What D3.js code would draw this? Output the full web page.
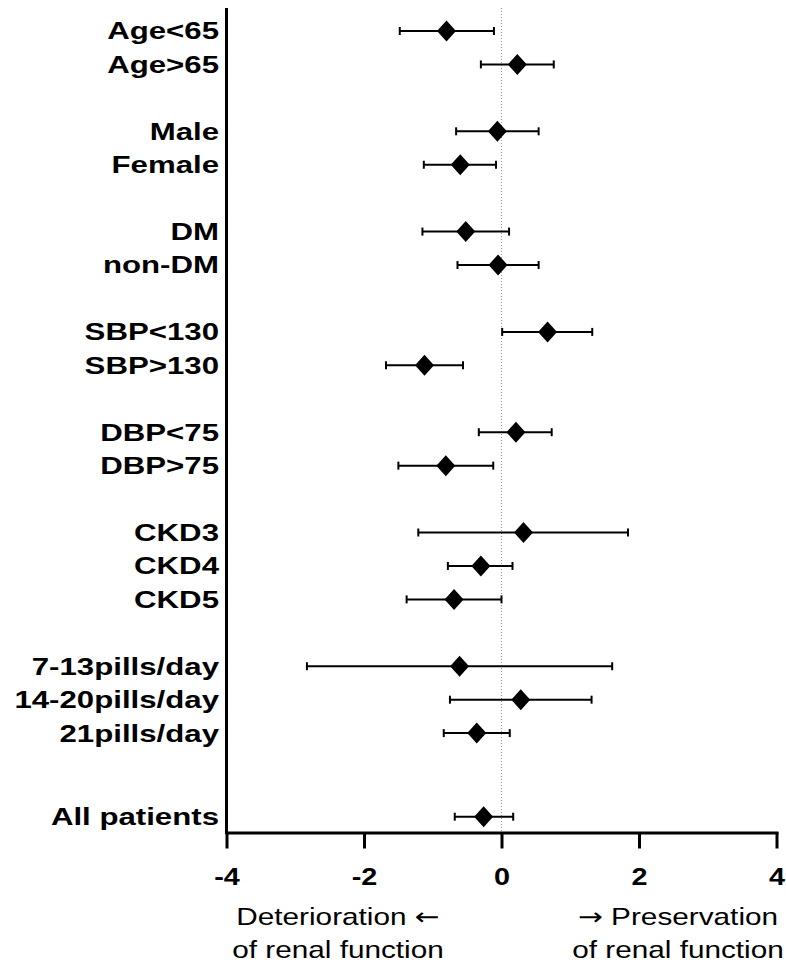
<!DOCTYPE html>
<html>
<head>
<meta charset="utf-8">
<script src="https://cdn.jsdelivr.net/npm/d3@7"></script>
<style>
  body { margin: 0; background: #fff; }
  text { font-family: "Liberation Sans", Arial, sans-serif; fill: #000; }
</style>
</head>
<body>
<div id="graph"></div>
<script>
// subgroup names, row slots (gaps between groups), mean and 95% CI
var labels = ['Age<65', 'Age>65', 'Male', 'Female', 'DM', 'non-DM', 'SBP<130', 'SBP>130',
  'DBP<75', 'DBP>75', 'CKD3', 'CKD4', 'CKD5', '7-13pills/day', '14-20pills/day', '21pills/day', 'All patients'];
var slots = [0, 1, 3, 4, 6, 7, 9, 10, 12, 13, 15, 16, 17, 19, 20, 21, 23.5];
var means = [-0.80, 0.23, -0.06, -0.60, -0.52, -0.05, 0.67, -1.12, 0.21, -0.81, 0.32, -0.30, -0.69, -0.61, 0.28, -0.36, -0.26];
var lower = [-1.48, -0.30, -0.66, -1.13, -1.15, -0.64, 0.01, -1.68, -0.33, -1.50, -1.21, -0.78, -1.38, -2.83, -0.75, -0.84, -0.68];
var upper = [-0.11, 0.76, 0.54, -0.08, 0.11, 0.54, 1.32, -0.56, 0.73, -0.12, 1.84, 0.16, 0.00, 1.61, 1.31, 0.12, 0.17];
var xTicks = [-4, -2, 0, 2, 4];
// footnote lines: [before arrow, arrow, after arrow]
var footLeft = [['Deterioration ', '\u2190', ''], ['of renal function', '', '']];
var footRight = [['', '\u2192', ' Preservation'], ['of renal function', '', '']];

var data = labels.map(function(d, i) {
  return {label: d, slot: slots[i], mean: means[i], lo: lower[i], hi: upper[i]};
});

var width = 786, height = 966;
var axisY = 832.5, topY = 8;

var x = d3.scaleLinear().domain([-4, 4]).range([226.5, 776.5]);
var y = d3.scaleLinear().domain([0, 23.5]).range([31, 816.7]);

var svg = d3.select('#graph').append('svg')
  .attr('width', width)
  .attr('height', height);

// dotted zero line
svg.append('line')
  .attr('x1', x(0)).attr('x2', x(0))
  .attr('y1', topY).attr('y2', axisY)
  .attr('stroke', '#999')
  .attr('stroke-width', 1)
  .attr('stroke-dasharray', '1,2');

// y axis line (no ticks)
svg.append('line')
  .attr('x1', x(-4)).attr('x2', x(-4))
  .attr('y1', topY).attr('y2', axisY + 1.5)
  .attr('stroke', '#000')
  .attr('stroke-width', 3);

// x axis
var xAxis = svg.append('g')
  .attr('transform', 'translate(0,' + axisY + ')')
  .call(d3.axisBottom(x).tickValues(xTicks).tickSize(16).tickSizeOuter(0).tickPadding(19)
    .tickFormat(function(d) { return String(d); }));
xAxis.select('.domain').attr('stroke-width', 3).attr('stroke-linecap', 'square');
xAxis.selectAll('.tick line').attr('stroke-width', 3);
xAxis.selectAll('.tick text')
  .style('font-size', '24px')
  .style('font-weight', 'bold')
  .style('font-family', '"Liberation Sans", Arial, sans-serif')
  .attr('transform', 'scale(1.2,1)');

// rows
var row = svg.append('g').selectAll('g')
  .data(data)
  .enter()
  .append('g')
  .attr('transform', function(d) { return 'translate(0,' + y(d.slot) + ')'; });

row.append('line')
  .attr('x1', function(d) { return x(d.lo); })
  .attr('x2', function(d) { return x(d.hi); })
  .attr('stroke', '#000').attr('stroke-width', 2);

row.selectAll('.cap')
  .data(function(d) { return [d.lo, d.hi]; })
  .enter()
  .append('line')
  .attr('class', 'cap')
  .attr('x1', function(v) { return x(v); })
  .attr('x2', function(v) { return x(v); })
  .attr('y1', -4).attr('y2', 4)
  .attr('stroke', '#000').attr('stroke-width', 2);

row.append('path')
  .attr('d', function(d) {
    var cx = x(d.mean);
    return 'M' + cx + ',-10.5 L' + (cx + 9.5) + ',0 L' + cx + ',10.5 L' + (cx - 9.5) + ',0 Z';
  })
  .attr('fill', '#000');

row.append('text')
  .attr('transform', 'translate(219,8.4) scale(1.3,1)')
  .attr('text-anchor', 'end')
  .style('font-size', '24px')
  .style('font-weight', 'bold')
  .text(function(d) { return d.label; });

// footnotes under the axis
function foot(lines, cx) {
  var t = svg.append('g').selectAll('text')
    .data(lines)
    .enter()
    .append('text')
    .attr('transform', function(d, i) { return 'translate(' + cx + ',' + (925 + i * 33) + ') scale(1.24,1)'; })
    .attr('text-anchor', 'middle')
    .style('font-size', '24px');
  t.append('tspan').text(function(d) { return d[0]; });
  t.append('tspan').style('font-family', '"DejaVu Sans", sans-serif').style('font-size', '24px')
    .text(function(d) { return d[1]; });
  t.append('tspan').text(function(d) { return d[2]; });
}
foot(footLeft, 338);
foot(footRight, 678);
</script>
</body>
</html>
